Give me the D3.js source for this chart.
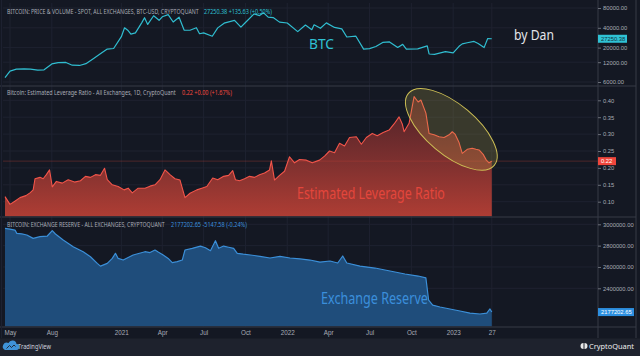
<!DOCTYPE html>
<html><head><meta charset="utf-8">
<script src="https://cdn.jsdelivr.net/npm/d3@7"></script>
<style>html,body{margin:0;padding:0;background:#141823;} svg{display:block;}</style>
</head><body>
<svg id="c" width="640" height="356"></svg>
<script>
// ---------- DATA ----------
const btcDates = ["2020-04-20","2020-05-01","2020-05-15","2020-06-01","2020-06-15","2020-07-01","2020-07-15","2020-08-01","2020-08-15","2020-09-01","2020-09-15","2020-10-01","2020-10-15","2020-11-01","2020-11-15","2020-12-01","2020-12-15","2021-01-01","2021-01-08","2021-01-15","2021-01-22","2021-02-01","2021-02-15","2021-02-21","2021-02-28","2021-03-13","2021-03-25","2021-04-01","2021-04-14","2021-04-25","2021-05-08","2021-05-19","2021-06-01","2021-06-15","2021-06-22","2021-07-01","2021-07-20","2021-08-01","2021-08-15","2021-09-07","2021-09-21","2021-10-01","2021-10-20","2021-11-01","2021-11-10","2021-11-20","2021-12-01","2021-12-15","2022-01-01","2022-01-24","2022-02-10","2022-02-24","2022-03-01","2022-03-15","2022-03-28","2022-04-15","2022-05-01","2022-05-12","2022-06-01","2022-06-18","2022-07-01","2022-07-15","2022-07-30","2022-08-14","2022-09-01","2022-09-12","2022-09-20","2022-10-15","2022-11-05","2022-11-09","2022-11-21","2022-12-15","2023-01-01","2023-01-14","2023-01-21","2023-02-01","2023-02-16","2023-02-25","2023-03-10","2023-03-18","2023-03-27"];
const btcValues = [7000,8800,9400,9500,9400,9100,9200,11300,11800,11900,10800,10700,11400,13700,16000,19000,19400,29300,40000,36800,32000,33500,48000,57000,45000,61000,52000,58800,63500,49000,58000,37000,36700,40100,32500,33500,29800,39900,47000,52000,41000,48100,65000,61300,67500,58000,57200,48800,47300,35000,44000,37500,44400,39300,47500,40500,38500,29000,29800,19000,19300,20800,24000,24400,20100,22400,19000,19100,21200,16000,15800,17400,16600,20900,22800,23700,24800,23100,20000,27500,27250.38];

const levDates = ["2020-04-20","2020-05-01","2020-05-10","2020-05-23","2020-06-05","2020-06-14","2020-06-21","2020-06-25","2020-07-06","2020-07-13","2020-07-20","2020-07-27","2020-08-02","2020-08-11","2020-08-24","2020-09-06","2020-09-20","2020-10-03","2020-10-14","2020-10-25","2020-11-05","2020-11-16","2020-11-25","2020-12-01","2020-12-12","2020-12-25","2021-01-07","2021-01-16","2021-01-25","2021-02-07","2021-02-22","2021-03-05","2021-03-16","2021-03-27","2021-04-07","2021-04-18","2021-04-29","2021-05-10","2021-05-21","2021-06-01","2021-06-16","2021-06-27","2021-07-08","2021-07-21","2021-08-01","2021-08-14","2021-08-25","2021-09-03","2021-09-09","2021-09-18","2021-09-29","2021-10-10","2021-10-21","2021-11-01","2021-11-12","2021-11-23","2021-11-27","2021-12-04","2021-12-15","2021-12-26","2022-01-06","2022-01-17","2022-01-28","2022-02-12","2022-02-25","2022-03-13","2022-03-24","2022-04-04","2022-04-15","2022-04-26","2022-05-07","2022-05-18","2022-06-02","2022-06-13","2022-06-24","2022-07-07","2022-07-18","2022-07-31","2022-08-13","2022-08-24","2022-09-04","2022-09-11","2022-09-15","2022-09-26","2022-10-07","2022-10-16","2022-10-22","2022-11-02","2022-11-09","2022-11-20","2022-12-01","2022-12-12","2022-12-23","2022-12-30","2023-01-05","2023-01-14","2023-01-21","2023-02-01","2023-02-12","2023-02-20","2023-02-27","2023-03-08","2023-03-15","2023-03-21","2023-03-27"];
const levValues = [0.115,0.092,0.100,0.112,0.118,0.126,0.135,0.168,0.172,0.168,0.180,0.194,0.144,0.160,0.155,0.165,0.158,0.162,0.175,0.172,0.180,0.178,0.199,0.165,0.150,0.145,0.135,0.140,0.126,0.140,0.140,0.146,0.150,0.165,0.194,0.180,0.168,0.164,0.112,0.125,0.135,0.140,0.145,0.170,0.165,0.175,0.178,0.192,0.165,0.162,0.168,0.175,0.172,0.180,0.185,0.194,0.221,0.164,0.178,0.190,0.233,0.215,0.225,0.223,0.215,0.223,0.235,0.250,0.245,0.273,0.265,0.290,0.292,0.270,0.290,0.302,0.295,0.305,0.312,0.330,0.351,0.330,0.307,0.332,0.411,0.395,0.401,0.362,0.302,0.298,0.292,0.290,0.298,0.307,0.300,0.275,0.243,0.255,0.258,0.255,0.253,0.240,0.223,0.215,0.22];

const resDates = ["2020-04-20","2020-05-01","2020-05-12","2020-05-16","2020-05-27","2020-06-07","2020-06-21","2020-07-06","2020-07-22","2020-08-02","2020-08-09","2020-08-26","2020-09-17","2020-10-09","2020-10-25","2020-11-09","2020-11-16","2020-12-01","2020-12-12","2020-12-19","2020-12-25","2021-01-05","2021-01-27","2021-02-22","2021-03-05","2021-03-16","2021-03-23","2021-04-03","2021-04-14","2021-04-23","2021-05-04","2021-05-15","2021-05-21","2021-06-06","2021-06-24","2021-07-05","2021-07-16","2021-07-27","2021-08-03","2021-08-14","2021-08-25","2021-09-05","2021-09-13","2021-09-26","2021-10-12","2021-11-02","2021-11-24","2021-12-16","2022-01-07","2022-01-29","2022-02-20","2022-03-14","2022-04-05","2022-04-22","2022-05-03","2022-05-12","2022-06-10","2022-07-13","2022-08-15","2022-09-17","2022-10-16","2022-11-02","2022-11-08","2022-11-17","2022-12-03","2022-12-25","2023-01-16","2023-02-07","2023-03-01","2023-03-16","2023-03-23","2023-03-27"];
const resValues = [2962000,2955000,2946000,2915000,2910000,2900000,2868000,2884000,2890000,2940000,2909000,2853000,2790000,2743000,2696000,2634000,2608000,2634000,2680000,2728000,2680000,2665000,2712000,2743000,2735000,2759000,2740000,2712000,2680000,2640000,2650000,2665000,2759000,2775000,2796000,2780000,2753000,2846000,2775000,2796000,2785000,2775000,2728000,2720000,2712000,2700000,2684000,2700000,2684000,2675000,2665000,2646000,2656000,2637000,2703000,2637000,2608000,2590000,2562000,2534000,2515000,2497000,2290000,2243000,2225000,2206000,2187000,2168000,2159000,2168000,2206000,2177202.65];

const btcTicks = [6000,12000,20000,40000,80000];
const levTicks = [0.10,0.15,0.20,0.25,0.30,0.35,0.40];
const resTicks = [2400000,2600000,2800000,3000000];
const timeTickDates = ["2020-05-01","2020-08-01","2021-01-01","2021-04-01","2021-07-01","2021-10-01","2022-01-01","2022-04-01","2022-07-01","2022-10-01","2023-01-01","2023-03-27"];
const timeTickLabels = ["May","Aug","2021","Apr","Jul","Oct","2022","Apr","Jul","Oct","2023","27"];

const btcTitle = "BITCOIN: PRICE & VOLUME - SPOT, ALL EXCHANGES, BTC-USD, CRYPTOQUANT";
const btcInfo = "27250.38  +135.63 (+0.50%)";
const levTitle = "Bitcoin: Estimated Leverage Ratio - All Exchanges, 1D, CryptoQuant";
const levInfo = "0.22  +0.00 (+1.67%)";
const resTitle = "BITCOIN: EXCHANGE RESERVE - ALL EXCHANGES, CRYPTOQUANT";
const resInfo = "2177202.65  -5147.58 (-0.24%)";
const highlight = {date: "2022-12-28", value: 0.314};

// ---------- DRAW ----------
const parse = d3.utcParse("%Y-%m-%d");
const svg = d3.select("#c");
const W = 640, H = 356;
const L = 3, R = 598;
const P1 = {top: 3, bottom: 86}, P2 = {top: 87, bottom: 216.5}, P3 = {top: 217.5, bottom: 326.5};
const BG = "#141823", GRID = "#1e2230", AXIS = "#363a46", TXT = "#a9acb6";
const font = "'Noto Sans', 'DejaVu Sans', sans-serif";
const axFont = "'Liberation Sans', Arial, sans-serif";

svg.append("rect").attr("width", W).attr("height", H).attr("fill", BG);

const x = d3.scaleUtc().domain([parse("2020-05-01"), parse("2023-03-27")]).range([10, 491.8]);
const yBtc = d3.scaleLog().domain([6000, 80000]).range([82, 8]);
const yLev = d3.scaleLinear().domain([0.10, 0.40]).range([201.7, 100.3]);
const yRes = d3.scaleLinear().domain([2400000, 3000000]).range([288.3, 224.3]);

const defs = svg.append("defs");
[["c1", P1], ["c2", P2], ["c3", P3]].forEach(([id, p]) => {
  defs.append("clipPath").attr("id", id).append("rect")
    .attr("x", L).attr("y", p.top).attr("width", R - L).attr("height", p.bottom - p.top);
});
const lg = defs.append("linearGradient").attr("id", "levFill").attr("gradientUnits", "userSpaceOnUse")
  .attr("x1", 0).attr("x2", 0).attr("y1", 95).attr("y2", 216);
lg.append("stop").attr("offset", 0).attr("stop-color", "#4a2128");
lg.append("stop").attr("offset", 0.55).attr("stop-color", "#7d302f");
lg.append("stop").attr("offset", 1).attr("stop-color", "#ae3d34");

// vertical grid
const tDates = timeTickDates.map(parse);
svg.append("g").selectAll("line").data(tDates).join("line")
  .attr("x1", d => x(d)).attr("x2", d => x(d)).attr("y1", P1.top).attr("y2", P3.bottom)
  .attr("stroke", GRID).attr("stroke-width", 1);
function hgrid(scale, ticks) {
  svg.append("g").selectAll("line").data(ticks).join("line")
    .attr("x1", L).attr("x2", R).attr("y1", d => scale(d)).attr("y2", d => scale(d))
    .attr("stroke", GRID).attr("stroke-width", 1);
}
hgrid(yBtc, btcTicks); hgrid(yLev, levTicks); hgrid(yRes, resTicks);

// BTC line
const btcData = btcDates.map((d, i) => ({d: parse(d), v: btcValues[i]}));
svg.append("path").datum(btcData).attr("clip-path", "url(#c1)")
  .attr("d", d3.line().x(p => x(p.d)).y(p => yBtc(p.v)))
  .attr("fill", "none").attr("stroke", "#30bdd0").attr("stroke-width", 1.2).attr("stroke-linejoin", "round");

// Leverage area
const levData = levDates.map((d, i) => ({d: parse(d), v: levValues[i]}));
svg.append("path").datum(levData).attr("clip-path", "url(#c2)")
  .attr("d", d3.area().x(p => x(p.d)).y0(P2.bottom).y1(p => yLev(p.v)))
  .attr("fill", "url(#levFill)");
svg.append("line").attr("x1", L).attr("x2", R).attr("y1", yLev(0.22)).attr("y2", yLev(0.22))
  .attr("stroke", "#c8433a").attr("stroke-opacity", 0.55).attr("stroke-width", 0.6);
svg.append("path").datum(levData).attr("clip-path", "url(#c2)")
  .attr("d", d3.line().x(p => x(p.d)).y(p => yLev(p.v)))
  .attr("fill", "none").attr("stroke", "#f2554a").attr("stroke-width", 1.1).attr("stroke-linejoin", "round");

// Reserve area
const resData = resDates.map((d, i) => ({d: parse(d), v: resValues[i]}));
svg.append("path").datum(resData).attr("clip-path", "url(#c3)")
  .attr("d", d3.area().x(p => x(p.d)).y0(P3.bottom).y1(p => yRes(p.v)))
  .attr("fill", "#1f4d7b");
svg.append("path").datum(resData).attr("clip-path", "url(#c3)")
  .attr("d", d3.line().x(p => x(p.d)).y(p => yRes(p.v)))
  .attr("fill", "none").attr("stroke", "#3b8fd8").attr("stroke-width", 1.2).attr("stroke-linejoin", "round");

// highlight ellipse
const ex = x(parse(highlight.date)), ey = yLev(highlight.value);
svg.append("ellipse").attr("cx", 0).attr("cy", 0).attr("rx", 56).attr("ry", 25)
  .attr("transform", `translate(${ex},${ey}) rotate(40)`)
  .attr("fill", "rgba(205,192,80,0.2)").attr("stroke", "#cdbf55").attr("stroke-width", 1);

// separators & frame
[P1.bottom, P2.bottom + 0.5, P3.bottom + 0.5].forEach(yy => {
  svg.append("line").attr("x1", 0).attr("x2", 636).attr("y1", yy).attr("y2", yy)
    .attr("stroke", AXIS).attr("stroke-width", 1);
});
svg.append("line").attr("x1", R).attr("x2", R).attr("y1", 0).attr("y2", 338).attr("stroke", AXIS);
svg.append("line").attr("x1", 636).attr("x2", 636).attr("y1", 0).attr("y2", 338).attr("stroke", AXIS);
svg.append("line").attr("x1", 1.5).attr("x2", 1.5).attr("y1", 0).attr("y2", 338).attr("stroke", "#1d2130");

// right axes
function rAxis(scale, ticks) {
  const g = svg.append("g").attr("transform", `translate(${R},0)`)
    .call(d3.axisRight(scale).tickValues(ticks).tickFormat(d3.format(".2f")).tickSize(3).tickPadding(2));
  g.select(".domain").remove();
  g.selectAll("line").attr("stroke", "#6a6e78");
  g.selectAll("text").attr("fill", TXT).attr("font-size", 5.8).attr("font-family", axFont);
}
rAxis(yBtc, btcTicks); rAxis(yLev, levTicks); rAxis(yRes, resTicks);

// time axis
const ta = svg.append("g").attr("transform", `translate(0,${P3.bottom})`)
  .call(d3.axisBottom(x).tickValues(tDates).tickFormat((d, i) => timeTickLabels[i]).tickSize(0).tickPadding(4.5));
ta.select(".domain").remove();
ta.selectAll("text").attr("fill", TXT).attr("font-size", 6.3).attr("font-family", axFont);

// last-value labels
function lastLabel(yy, txt, bg, fg, w) {
  svg.append("rect").attr("x", R).attr("y", yy - 4).attr("width", w).attr("height", 8).attr("fill", bg);
  svg.append("text").attr("x", R + 3).attr("y", yy + 1.9).text(txt)
    .attr("fill", fg).attr("font-size", 5.8).attr("font-family", axFont);
}
lastLabel(yBtc(27250.38), "27250.38", "#2fc2d5", "#10333d", 29);
lastLabel(yLev(0.22), "0.22", "#f0463c", "#ffffff", 18);
lastLabel(yRes(2177202.65), "2177202.65", "#2d8fe0", "#ffffff", 36);

// fitted text: natural font, horizontally scaled to target width
function fitText(xx, yy, t, c, fs, w) {
  const el = svg.append("text").attr("x", 0).attr("y", 0).text(t).attr("fill", c)
    .attr("font-size", fs).attr("font-family", font);
  const nat = el.node().getComputedTextLength();
  el.attr("transform", `translate(${xx},${yy}) scale(${w / nat},1)`);
  return el;
}
// headers
fitText(7, 14.2, btcTitle, TXT, 6.3, 192);
fitText(204, 14.2, btcInfo, "#2fc0d3", 6.3, 68);
fitText(7, 95, levTitle, TXT, 6.3, 169);
fitText(182, 95, levInfo, "#f0483e", 6.3, 50);
fitText(7, 226.6, resTitle, TXT, 6.3, 158);
fitText(171, 226.6, resInfo, "#3b8fdb", 6.3, 76);

// annotations
fitText(309, 49, "BTC", "#2fc0d3", 14.5, 25);
fitText(514, 39.5, "by Dan", "#e3e5ea", 14, 40);
fitText(297, 198.5, "Estimated Leverage Ratio", "#e3463c", 15.5, 148);
fitText(321, 303.5, "Exchange Reserve", "#3b8fdb", 15.5, 107);

// footer
svg.append("rect").attr("x", 0).attr("y", 338.5).attr("width", W).attr("height", H - 338.5).attr("fill", "#1e222d");
svg.append("path").attr("d", "M5,350 L16,350 A3,3 0 0 0 16.5,344 A4.2,4.2 0 0 0 8.5,343 A3.4,3.4 0 0 0 5,350 Z")
  .attr("fill", "#3f93d8");
svg.append("path").attr("d", "M6.5,348.5 L9.5,345.5 L11.5,347.5 L14,345 L15.5,346.5")
  .attr("fill", "none").attr("stroke", "#1e222d").attr("stroke-width", 0.9);
fitText(18, 349.3, "TradingView", "#d1d4dc", 7.2, 33);
svg.append("path").attr("d", "M583.5,343 A3,3 0 0 0 583.5,349 Z M584.5,343 A3,3 0 0 1 584.5,349 Z").attr("fill", "#e8e8e8");
fitText(589, 349.3, "CryptoQuant", "#eeeeee", 7.5, 45);
</script>
</body></html>
